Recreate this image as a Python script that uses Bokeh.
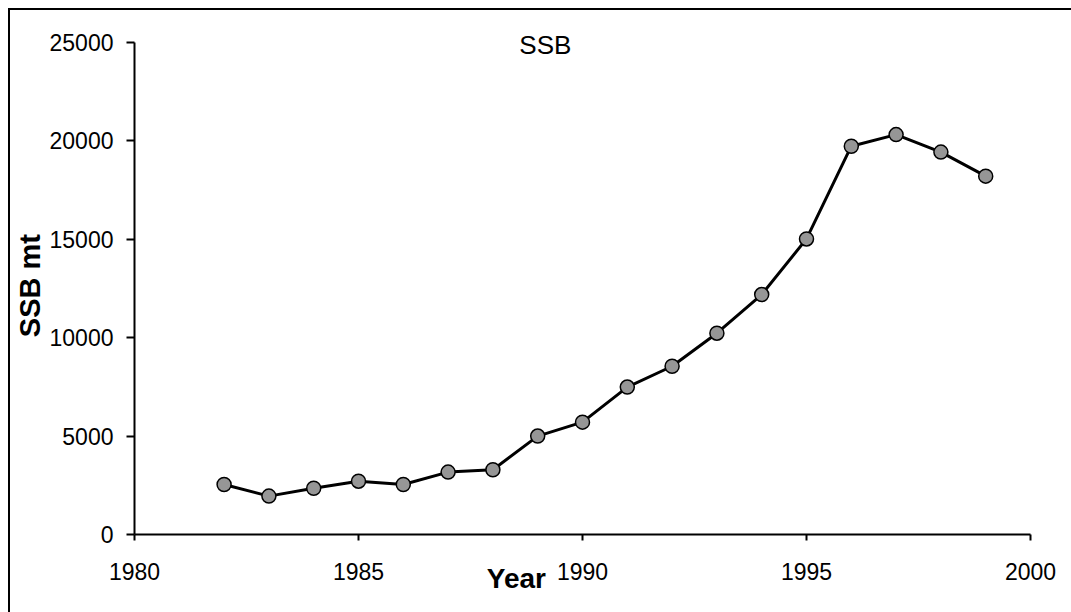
from bokeh.plotting import figure
from bokeh.models import Label, Range1d, FixedTicker
from bokeh.embed import file_html
from bokeh.resources import INLINE

# ---- data ----
years = [1982, 1983, 1984, 1985, 1986, 1987, 1988, 1989, 1990,
         1991, 1992, 1993, 1994, 1995, 1996, 1997, 1998, 1999]
ssb = [2540, 1950, 2350, 2710, 2540, 3170, 3290, 5000, 5710,
       7490, 8550, 10230, 12190, 15020, 19730, 20320, 19430, 18210]
x_ticks = [1980, 1985, 1990, 1995, 2000]
y_ticks = [0, 5000, 10000, 15000, 20000, 25000]
title_text = "SSB"
x_label = "Year"
y_label = "SSB mt"

FONT = "Liberation Sans"
NBSP = "\u00a0"

# axis runs 0..25000 over 492 px; the frame is extended 30 px higher so the
# chart title (which sits level with the top tick) is not clipped
Y_AXIS_MAX = 25000
Y_FRAME_MAX = Y_AXIS_MAX + 30 * Y_AXIS_MAX / 492

p = figure(width=1071, height=612, output_backend="svg", toolbar_location=None,
           x_range=Range1d(1980, 2000), y_range=Range1d(0, Y_FRAME_MAX),
           min_border_left=134, min_border_right=41,
           min_border_top=12, min_border_bottom=78)
p.border_fill_color = None
p.background_fill_color = None
p.outline_line_color = None
p.xgrid.visible = False
p.ygrid.visible = False
# chart-area border (top and left edges visible in the window)
p.styles = {
    "background": ("linear-gradient(#000, #000) 8px 8px / 2px 100% no-repeat, "
                   "linear-gradient(#000, #000) 8px 8px / 100% 2px no-repeat, #ffffff"),
}

p.line(years, ssb, line_width=3, line_color="black")
p.scatter(years, ssb, size=14, fill_color="#969696", line_color="black", line_width=1.5)

for ax, ticks, tick_out, standoff in ((p.xaxis[0], x_ticks, 6, 22), (p.yaxis[0], y_ticks, 8, 13)):
    ax.ticker = FixedTicker(ticks=ticks)
    ax.axis_line_width = 2
    ax.axis_line_color = "black"
    ax.major_tick_line_width = 2
    ax.major_tick_line_color = "black"
    ax.major_tick_in = 0
    ax.major_tick_out = tick_out
    ax.minor_tick_in = 0
    ax.minor_tick_out = 0
    ax.major_label_text_font = FONT
    ax.major_label_text_font_size = "23px"
    ax.major_label_text_color = "black"
    ax.major_label_standoff = standoff
    ax.axis_label_text_font = FONT
    ax.axis_label_text_font_style = "bold"
    ax.axis_label_text_color = "black"

p.yaxis[0].bounds = (0, Y_AXIS_MAX)
p.yaxis[0].major_label_orientation = "horizontal"

# x-axis label: sits left of centre and overlaps the tick-label row
p.xaxis[0].axis_label = x_label + NBSP * 17
p.xaxis[0].axis_label_text_font_size = "28px"
p.xaxis[0].axis_label_standoff = -20

p.yaxis[0].axis_label = y_label + NBSP * 3
p.yaxis[0].axis_label_text_font_size = "29px"
p.yaxis[0].axis_label_standoff = 1

p.add_layout(Label(x=1989.17, y=24898, text=title_text, text_align="center",
                   text_baseline="middle", text_font=FONT, text_font_size="26px",
                   text_color="black"))

open("out.html", "w").write(file_html(p, INLINE))
